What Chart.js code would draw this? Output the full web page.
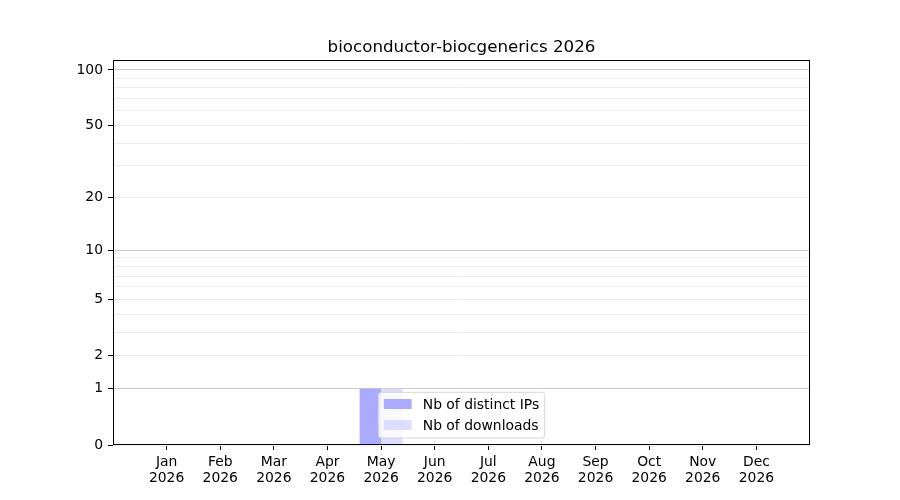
<!DOCTYPE html>
<html>
<head>
<meta charset="utf-8">
<script src="https://cdn.jsdelivr.net/npm/chart.js@4.4.1/dist/chart.umd.min.js"></script>
<style>
  html, body { margin: 0; padding: 0; background: #ffffff; }
  #wrap { width: 900px; height: 500px; }
</style>
</head>
<body>
<div id="wrap"><canvas id="chart" width="900" height="500"></canvas></div>
<script>
const chartTitle = "bioconductor-biocgenerics 2026";
const months = ["Jan", "Feb", "Mar", "Apr", "May", "Jun", "Jul", "Aug", "Sep", "Oct", "Nov", "Dec"];
const yearLabel = "2026";
const distinctIps = [0, 0, 0, 0, 1, 0, 0, 0, 0, 0, 0, 0];
const downloads = [0, 0, 0, 0, 1, 0, 0, 0, 0, 0, 0, 0];
const yGridValues = [0, 1, 2, 3, 4, 5, 6, 7, 8, 9, 10, 20, 30, 40, 50, 60, 70, 80, 90, 100];
const yLabelValues = [0, 1, 2, 5, 10, 20, 50, 100];
const yMajorValues = [1, 10, 100];
const yTopValue = 113.2;

const FONT = "'DejaVu Sans', sans-serif";
const TICK_SIZE = 13.9;

// log(1 + x) axis, like the original plot
const toAxis = (v) => (v == null ? null : Math.log10(1 + v));
const fromAxis = (a) => Math.round(Math.pow(10, a) - 1);

// one empty slot on each side of the months
const labels = [""].concat(months.map((m) => [m, yearLabel]), [""]);
const pad = (arr) => [null].concat(arr.map(toAxis), [null]);

function setupTitleAndFrame() {
  return {
    id: "titleAndFrame",
    afterDatasetsDraw(chart) {
      const { ctx, chartArea: a } = chart;
      ctx.save();
      ctx.strokeStyle = "#000000";
      ctx.lineWidth = 1;
      const l = Math.round(a.left) + 0.5, t = Math.round(a.top) + 0.5;
      const r = Math.round(a.right) - 0.5, b = Math.round(a.bottom) - 0.5;
      ctx.strokeRect(l, t, r - l, b - t);
      ctx.restore();
    },
    afterDraw(chart) {
      const { ctx, chartArea: a } = chart;
      ctx.save();
      ctx.fillStyle = "#000000";
      ctx.font = "16.7px " + FONT;
      ctx.textAlign = "center";
      ctx.textBaseline = "middle";
      ctx.fillText(chartTitle, (a.left + a.right) / 2, 47.5);
      ctx.restore();
    },
  };
}

function setupLegend() {
  return {
    id: "innerLegend",
    afterDraw(chart) {
      const { ctx, chartArea: a } = chart;
      const sets = chart.data.datasets;
      ctx.save();
      ctx.font = TICK_SIZE + "px " + FONT;
      const textW = Math.max(...sets.map((d) => ctx.measureText(d.label).width));
      const padX = 5.6, handle = 27.8, gap = 11.1, rowStep = 21;
      const w = padX + handle + gap + textW + padX;
      const h = 45.7;
      const x = (a.left + a.right) / 2 - w / 2;
      const y = a.bottom - 7 - h;

      ctx.globalAlpha = 0.8;
      ctx.beginPath();
      ctx.roundRect(x, y, w, h, 3);
      ctx.fillStyle = "#ffffff";
      ctx.fill();
      ctx.strokeStyle = "#cccccc";
      ctx.lineWidth = 1;
      ctx.stroke();
      ctx.globalAlpha = 1;

      sets.forEach((d, i) => {
        const cy = y + 11.7 + i * rowStep;
        ctx.fillStyle = d.backgroundColor;
        ctx.fillRect(x + padX, cy - 5, handle, 10);
        ctx.fillStyle = "#000000";
        ctx.textAlign = "left";
        ctx.textBaseline = "middle";
        ctx.fillText(d.label, x + padX + handle + gap, cy + 1);
      });
      ctx.restore();
    },
  };
}

new Chart(document.getElementById("chart").getContext("2d"), {
  type: "bar",
  data: {
    labels: labels,
    datasets: [
      {
        label: "Nb of distinct IPs",
        data: pad(distinctIps),
        backgroundColor: "#aaaaff",
        borderWidth: 0,
        categoryPercentage: 0.8,
        barPercentage: 1,
      },
      {
        label: "Nb of downloads",
        data: pad(downloads),
        backgroundColor: "#ddddff",
        borderWidth: 0,
        categoryPercentage: 0.8,
        barPercentage: 1,
      },
    ],
  },
  options: {
    responsive: false,
    animation: false,
    devicePixelRatio: 1,
    layout: { padding: { left: 0, right: 90, top: 60, bottom: 0 } },
    plugins: {
      legend: { display: false },
      title: { display: false },
      tooltip: { enabled: false },
    },
    scales: {
      x: {
        type: "category",
        offset: false,
        afterFit: (scale) => { scale.height = 55; },
        border: { display: false },
        grid: {
          offset: false,
          drawOnChartArea: false,
          drawTicks: true,
          tickLength: 5,
          tickColor: (c) => (c.index === 0 || c.index === labels.length - 1 ? "rgba(0,0,0,0)" : "#000000"),
        },
        ticks: {
          autoSkip: false,
          maxRotation: 0,
          minRotation: 0,
          padding: 4,
          color: "#000000",
          font: { family: FONT, size: TICK_SIZE, lineHeight: 1.15 },
        },
      },
      y: {
        type: "linear",
        min: 0,
        max: toAxis(yTopValue),
        afterFit: (scale) => { scale.width = 113; },
        afterBuildTicks: (scale) => {
          scale.ticks = yGridValues.map((v) => ({ value: toAxis(v) }));
        },
        border: { display: false },
        grid: {
          lineWidth: 1,
          color: (c) => (c.tick && yMajorValues.includes(fromAxis(c.tick.value)) ? "#c8c8c8" : "#ececec"),
          tickLength: 5,
          tickColor: (c) => (c.tick && yLabelValues.includes(fromAxis(c.tick.value)) ? "#000000" : "rgba(0,0,0,0)"),
        },
        ticks: {
          autoSkip: false,
          padding: 5,
          color: "#000000",
          font: { family: FONT, size: TICK_SIZE },
          callback: (value) => {
            const v = fromAxis(value);
            return yLabelValues.includes(v) ? String(v) : "";
          },
        },
      },
    },
  },
  plugins: [setupTitleAndFrame(), setupLegend()],
});
</script>
</body>
</html>
